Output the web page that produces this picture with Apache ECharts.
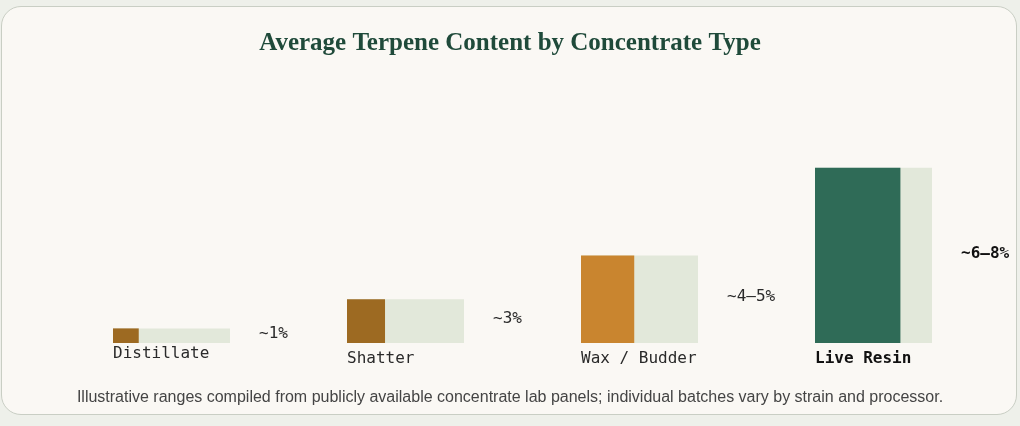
<!DOCTYPE html>
<html>
<head>
<meta charset="utf-8">
<script src="https://cdn.jsdelivr.net/npm/echarts@6/dist/echarts.min.js"></script>
<style>
  html, body { margin: 0; padding: 0; background: #eef0ea; }
  #card {
    position: absolute; left: 1px; top: 6px; width: 1014px; height: 407px;
    background: #faf8f4; border: 1.5px solid #c9cec4; border-radius: 20px;
  }
  #chart { position: absolute; left: 0; top: 0; width: 1020px; height: 426px; }
</style>
</head>
<body>
<div id="card"></div>
<div id="chart"></div>
<script>
// concentrate types, relative bar height, filled share of each box, range label
const categories = ['Distillate', 'Shatter', 'Wax / Budder', 'Live Resin'];
const barHeight = [1, 3, 6, 12];
const fillShare = [0.22, 0.325, 0.455, 0.73];
const rangeLabels = ['~1%', '~3%', '~4\u20135%', '~6\u20138%'];
const fillColors = ['#9d6a22', '#9d6a22', '#c9852f', '#2f6b57'];

const chart = echarts.init(document.getElementById('chart'));

const option = {
  backgroundColor: 'transparent',
  animation: false,
  title: {
    text: 'Average Terpene Content by Concentrate Type',
    left: 'center',
    top: 26,
    textStyle: {
      fontFamily: 'Liberation Serif',
      fontSize: 25,
      fontWeight: 'bold',
      color: '#1f4a3a'
    }
  },
  graphic: [{
    type: 'text',
    left: 'center',
    top: 390,
    style: {
      text: 'Illustrative ranges compiled from publicly available concentrate lab panels; individual batches vary by strain and processor.',
      font: '16px "Liberation Sans", Arial, sans-serif',
      fill: '#444'
    }
  }],
  grid: { left: 54.5, width: 936, top: 124, bottom: 83 },
  xAxis: { type: 'category', data: categories, show: false },
  yAxis: { type: 'value', min: 0, max: 15, show: false },
  series: [{
    type: 'custom',
    encode: { x: 0, y: 1 },
    data: categories.map((c, i) => [i, barHeight[i], fillShare[i]]),
    renderItem: function (params, api) {
      const i = api.value(0);
      const base = api.coord([i, 0]);
      const top = api.coord([i, api.value(1)]);
      const w = api.size([1, 0])[0] * 0.5;
      const x0 = base[0] - w / 2;
      const h = base[1] - top[1];
      const fw = w * api.value(2);
      const strong = i === categories.length - 1;
      const mono = '"DejaVu Sans Mono", monospace';
      return {
        type: 'group',
        children: [
          { type: 'rect', shape: { x: x0, y: top[1], width: w, height: h }, style: { fill: '#e2e8da' } },
          { type: 'rect', shape: { x: x0, y: top[1], width: fw, height: h }, style: { fill: fillColors[i] } },
          {
            type: 'text', x: x0 + w + 29, y: top[1] + h / 2 - 2,
            style: {
              text: rangeLabels[i], fill: strong ? '#111' : '#2a2a2a',
              font: (strong ? 'bold ' : '') + '16px ' + mono,
              verticalAlign: 'middle', align: 'left'
            }
          },
          {
            type: 'text', x: x0, y: base[1] + (i === 0 ? 11 : 16),
            style: {
              text: categories[i], fill: strong ? '#111' : '#2a2a2a',
              font: (strong ? 'bold ' : '') + '16px ' + mono,
              verticalAlign: 'middle', align: 'left'
            }
          }
        ]
      };
    }
  }]
};

chart.setOption(option);
</script>
</body>
</html>
